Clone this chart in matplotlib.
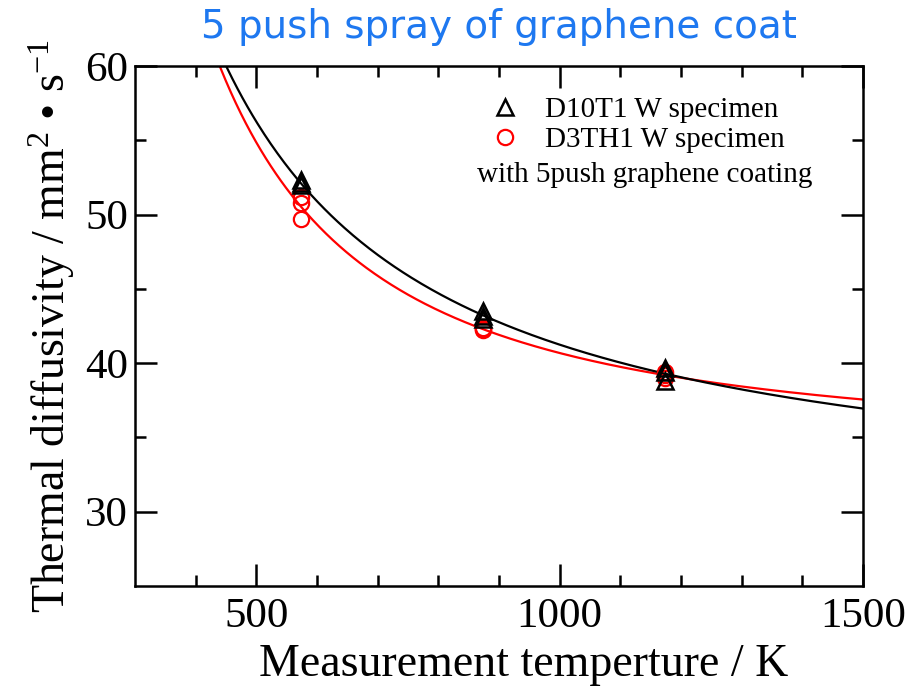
import numpy as np
import matplotlib
matplotlib.use("Agg")
import matplotlib.pyplot as plt
from matplotlib.lines import Line2D

plt.rcParams['font.family'] = ['Liberation Serif', 'DejaVu Serif']
plt.rcParams['mathtext.fontset'] = 'custom'
plt.rcParams['mathtext.rm'] = 'Liberation Serif'
plt.rcParams['mathtext.it'] = 'Liberation Serif:italic'

# D10T1 W specimen (triangles)
temp_a = [573, 573, 573, 873, 873, 873, 1173, 1173, 1173]
diff_a = [52.3, 52.0, 52.1, 43.5, 43.2, 43.0, 39.7, 39.4, 38.8]

# D3TH1 W specimen with 5push graphene coating (circles)
temp_b = [573, 573, 573, 873, 873, 873, 1173, 1173, 1173]
diff_b = [51.2, 50.8, 49.7, 42.4, 42.2, 42.3, 39.4, 39.2, 39.0]

fig = plt.figure(figsize=(9.2, 6.9), dpi=100)
ax = fig.add_axes([0.1467, 0.1507, 0.7913, 0.7536])

# fitted curves: quadratic in 1/T
T = np.linspace(400, 1500, 400)
fa = np.polyfit(1.0 / np.array(temp_a), diff_a, 2)
fb = np.polyfit(1.0 / np.array(temp_b), diff_b, 2)
ax.plot(T, np.polyval(fb, 1.0 / T), color='red', lw=1.6)
ax.plot(T, np.polyval(fa, 1.0 / T), color='black', lw=1.6)

ax.plot(temp_b, diff_b, 'o', ms=11, mfc='none', mec='red', mew=1.6)
ax.plot(temp_a, diff_a, '^', ms=12, mfc='none', mec='black', mew=1.8)

ax.set_xlim(300, 1500)
ax.set_ylim(25, 60)
ax.set_xticks([500, 1000, 1500])
ax.set_xticks(np.arange(400, 1500, 100), minor=True)
ax.set_yticks([30, 40, 50, 60])
ax.set_yticks([35, 45, 55], minor=True)
ax.tick_params(which='both', direction='in', top=True, right=True, width=1.8,
               labelsize=31)
ax.tick_params(axis='x', which='major', length=16, pad=8)
ax.tick_params(axis='y', which='major', length=16, pad=5)
ax.tick_params(which='minor', length=8)
for s in ax.spines.values():
    s.set_linewidth(1.8)

ax.set_xlabel('Measurement temperture / K', fontsize=33)
ax.xaxis.set_label_coords(0.534, -0.11)
ax.set_ylabel('Thermal diffusivity / mm$^{2}$ \u2022 s$^{-1}$', fontsize=33, labelpad=6)
ax.set_title('5 push spray of graphene coat', fontsize=28, color='#1e78f0',
             family='DejaVu Sans', pad=20)

handles = [Line2D([], [], ls='none', marker='^', ms=12, mfc='none', mec='black', mew=1.8),
           Line2D([], [], ls='none', marker='o', ms=11, mfc='none', mec='red', mew=1.6)]
ax.legend(handles, ['D10T1 W specimen', 'D3TH1 W specimen'], loc='upper right',
          bbox_to_anchor=(0.92, 0.98), frameon=False, fontsize=21,
          handletextpad=0.6, labelspacing=0.12, borderpad=0.2, handlelength=1.5)
ax.text(0.70, 0.79, 'with 5push graphene coating', transform=ax.transAxes,
        ha='center', va='center', fontsize=21)

fig.savefig('out.png', dpi=100)
